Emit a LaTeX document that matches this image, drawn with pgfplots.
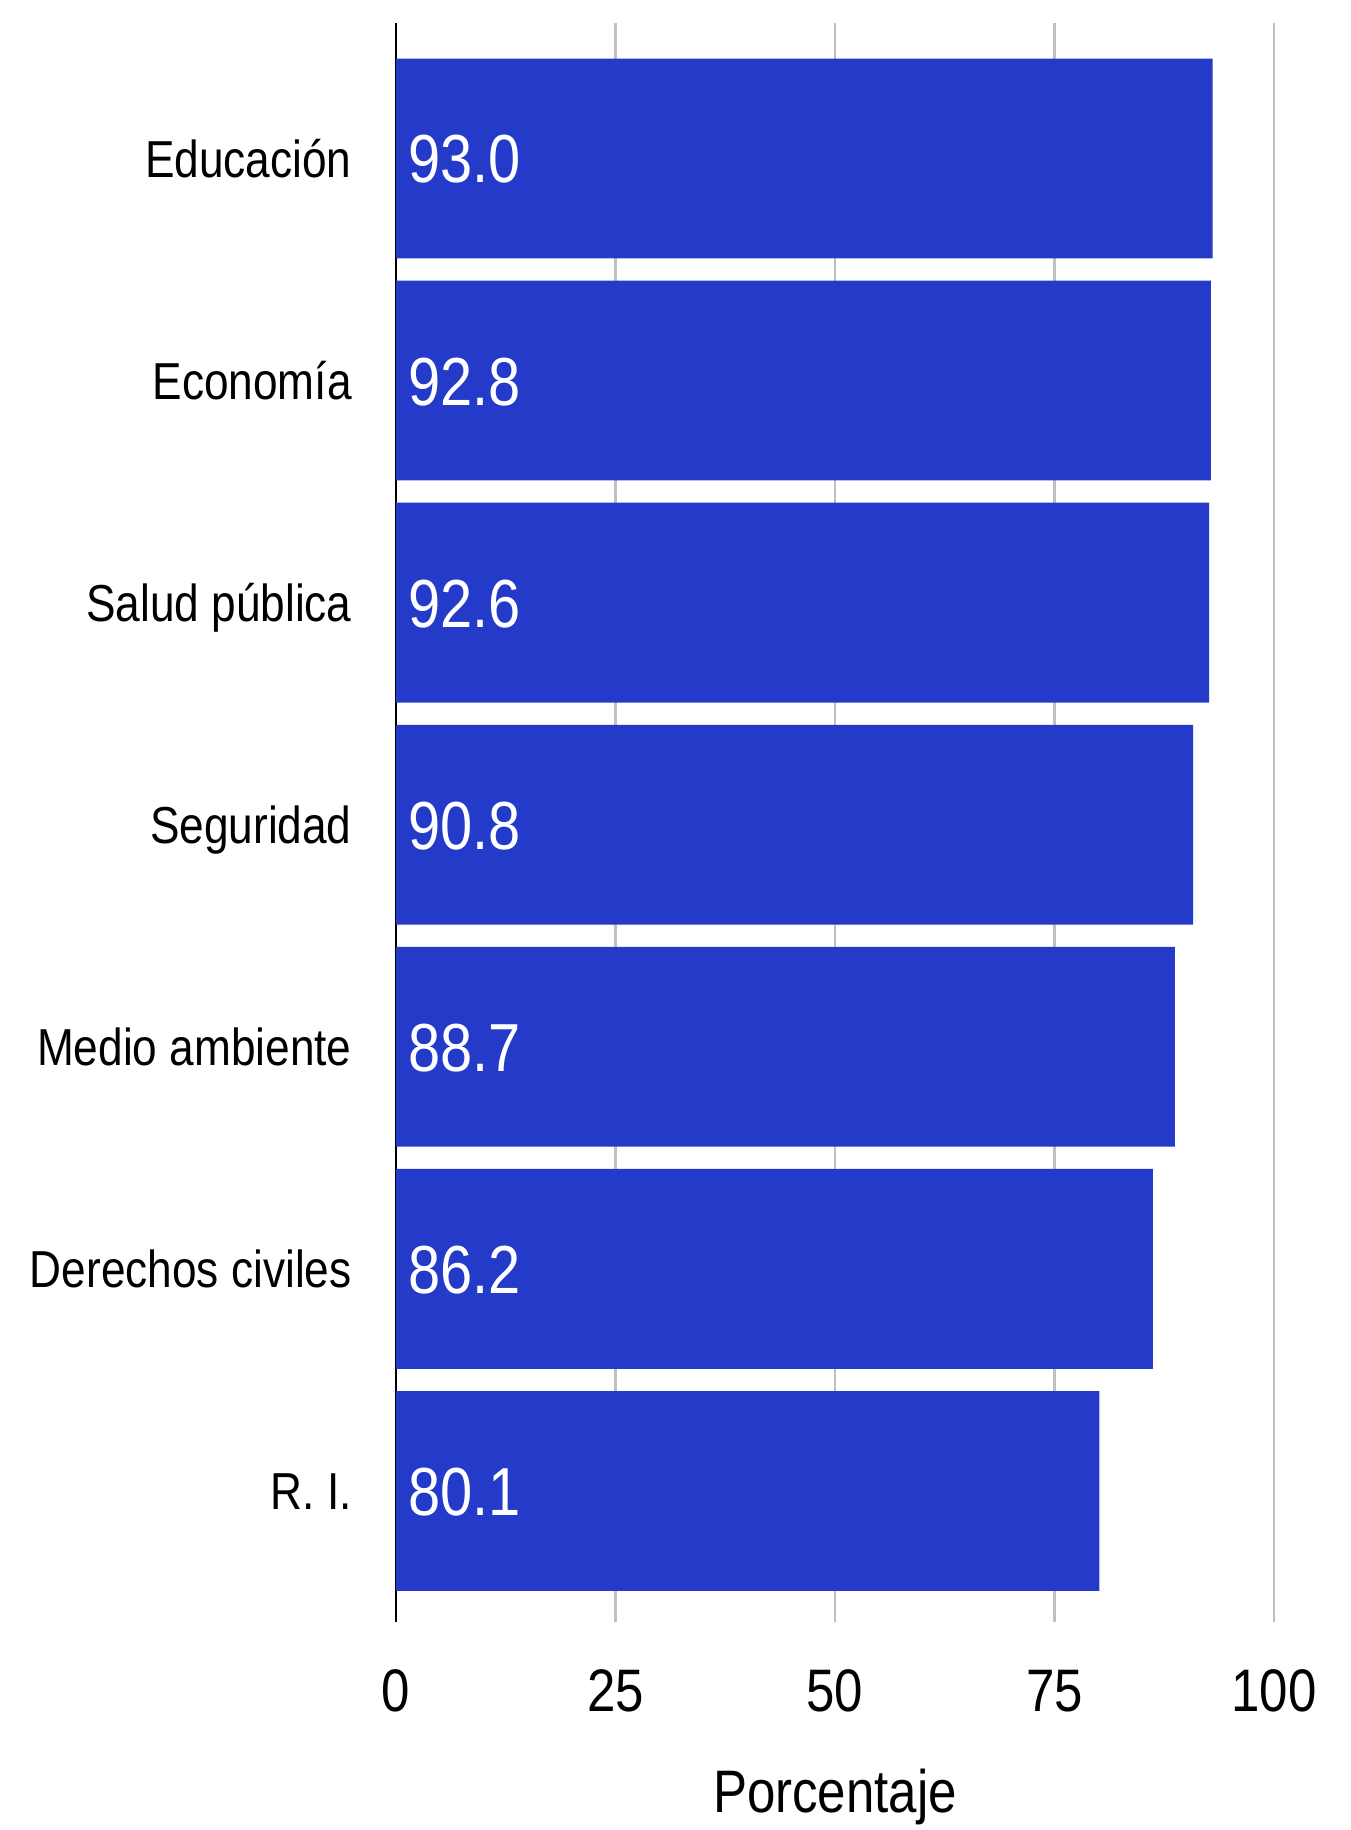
\documentclass[border=0pt]{standalone}
\usepackage{pgfplots}
\pgfplotsset{compat=1.18}
\usepackage{pgfplotstable}
\usepackage{fontspec}
\setmainfont[FakeStretch=0.85]{Liberation Sans}
\definecolor{barblue}{RGB}{36,58,200}
\definecolor{gridgray}{RGB}{192,192,192}
\pgfplotstableread{
pos val
6 93.0
5 92.8
4 92.6
3 90.8
2 88.7
1 86.2
0 80.1
}\datatable
\begin{document}
\begin{tikzpicture}
\useasboundingbox (0,0) rectangle (675pt,915pt);
\begin{axis}[
  at={(198pt,104pt)}, anchor=south west,
  scale only axis, width=439pt, height=799.5pt,
  xmin=0, xmax=100, ymin=-0.59, ymax=6.61,
  xtick={0,25,50,75,100},
  ytick={0,1,2,3,4,5,6},
  yticklabels={R. I., Derechos civiles, Medio ambiente, Seguridad, Salud pública, Economía, Educación},
  /pgf/number format/assume math mode=true,
  axis y line*=left, axis x line*=bottom,
  x axis line style={draw=none},
  y axis line style={black, line width=1.1pt, -},
  major tick length=0pt,
  tick style={draw=none},
  xmajorgrids, major grid style={gridgray, line width=1.3pt},
  yticklabel style={font=\fontsize{26}{26}\selectfont, anchor=base east, inner sep=0pt, xshift=-22pt, yshift=-9.35pt},
  xticklabel style={font=\fontsize{30}{30}\selectfont, anchor=base, inner sep=0pt, yshift=-45pt},
  xlabel={Porcentaje},
  xlabel style={font=\fontsize{30}{30}\selectfont, at={(axis description cs:0.5,0)}, anchor=base, inner sep=0pt, yshift=-95pt},
]
\addplot[xbar, bar shift=0pt, bar width=0.9, fill=barblue, draw=none] table[x=val, y=pos]{\datatable};
\addplot[draw=none, mark=none, point meta=explicit,
  nodes near coords={\pgfmathprintnumber[fixed, fixed zerofill, precision=1, assume math mode=true]{\pgfplotspointmeta}},
  nodes near coords style={font=\fontsize{34}{34}\selectfont, text=white, anchor=base west, inner sep=0pt, xshift=6pt, yshift=-12.25pt}]
  table[x expr=0, y=pos, meta=val]{\datatable};
\end{axis}
\end{tikzpicture}
\end{document}
